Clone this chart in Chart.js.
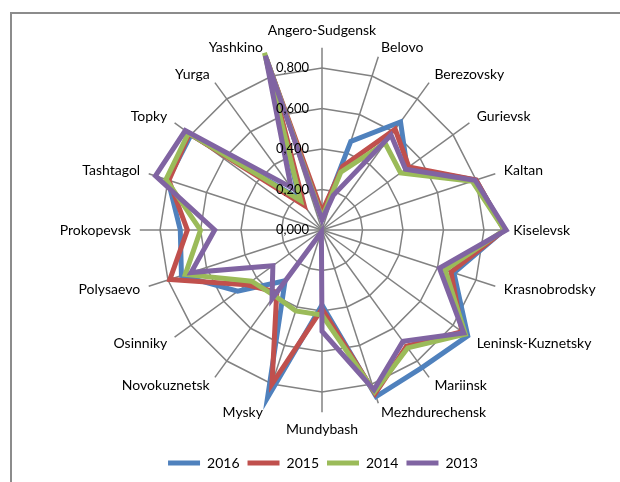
<!DOCTYPE html>
<html>
<head>
<meta charset="utf-8">
<script src="https://cdn.jsdelivr.net/npm/chart.js@4"></script>
<style>
  html, body { margin: 0; padding: 0; background: #fff; }
  #wrap { position: relative; width: 620px; height: 482px; overflow: hidden; }
  #frame { position: absolute; left: 10px; top: 12px; width: 700px; height: 600px; border: 2px solid #8c8c8c; }
  #chart { position: absolute; left: 0; top: 0; }
</style>
</head>
<body>
<div id="wrap">
  <div id="frame"></div>
  <canvas id="chart" width="620" height="482"></canvas>
</div>
<script>
const towns = [
  'Angero-Sudgensk', 'Belovo', 'Berezovsky', 'Gurievsk', 'Kaltan', 'Kiselevsk',
  'Krasnobrodsky', 'Leninsk-Kuznetsky', 'Mariinsk', 'Mezhdurechensk', 'Mundybash',
  'Mysky', 'Novokuznetsk', 'Osinniky', 'Polysaevo', 'Prokopevsk', 'Tashtagol',
  'Topky', 'Yurga', 'Yashkino'
];

const years = ['2016', '2015', '2014', '2013'];
const colors = ['#4F81BD', '#C0504D', '#9BBB59', '#8064A2'];

const v2016 = [0.07, 0.46, 0.66, 0.52, 0.80, 0.90, 0.685, 0.89, 0.84, 0.865, 0.37, 0.87, 0.31, 0.515, 0.73, 0.70, 0.80, 0.80, 0.19, 0.89];
const v2015 = [0.09, 0.33, 0.615, 0.53, 0.80, 0.90, 0.67, 0.855, 0.71, 0.85, 0.39, 0.80, 0.38, 0.46, 0.79, 0.665, 0.795, 0.81, 0.15, 0.89];
const v2014 = [0.06, 0.30, 0.53, 0.48, 0.78, 0.90, 0.64, 0.875, 0.72, 0.84, 0.42, 0.42, 0.40, 0.43, 0.71, 0.60, 0.81, 0.815, 0.18, 0.92];
const v2013 = [0.05, 0.18, 0.58, 0.51, 0.795, 0.91, 0.61, 0.865, 0.68, 0.83, 0.50, 0.01, 0.42, 0.30, 0.68, 0.53, 0.865, 0.835, 0.26, 0.905];

const rTicks = [0, 0.2, 0.4, 0.6, 0.8];
const rMax = 0.9;

Chart.defaults.font.family = 'Lato';
Chart.defaults.color = '#000';

// Excel puts the axis numbers just left of the vertical axis, over the lines
const tickLabels = {
  id: 'tickLabels',
  afterDatasetsDraw(chart) {
    const scale = chart.scales.r;
    const ctx = chart.ctx;
    ctx.save();
    ctx.font = '13px Lato';
    ctx.fillStyle = '#000';
    ctx.textAlign = 'right';
    ctx.textBaseline = 'middle';
    rTicks.forEach(v => {
      const y = scale.yCenter - scale.getDistanceFromCenterForValue(v);
      ctx.fillText(v.toFixed(3).replace('.', ','), scale.xCenter - 13, y);
    });
    ctx.restore();
  }
};

const series = [v2016, v2015, v2014, v2013];

new Chart(document.getElementById('chart'), {
  type: 'radar',
  data: {
    labels: towns,
    datasets: series.map((data, i) => ({
      label: years[i],
      data,
      borderColor: colors[i],
      backgroundColor: colors[i],
      borderWidth: 5,
      pointRadius: 0,
      fill: false,
      tension: 0,
      order: series.length - 1 - i   // 2013 drawn on top, like the original
    }))
  },
  options: {
    responsive: false,
    animation: false,
    layout: { padding: { top: 22, left: 26, right: 0, bottom: 2 } },
    plugins: {
      tooltip: { enabled: false },
      legend: {
        position: 'bottom',
        title: { display: true, text: '', font: { size: 7.5 }, padding: 0 },
        labels: {
          boxWidth: 32,
          boxHeight: 5,
          padding: 8,
          font: { size: 14 },
          color: '#000',
          sort: (a, b) => a.datasetIndex - b.datasetIndex,
          generateLabels: chart =>
            Chart.defaults.plugins.legend.labels.generateLabels(chart).map(l => ({
              ...l, lineWidth: 0, fillStyle: l.strokeStyle
            }))
        }
      }
    },
    scales: {
      r: {
        min: 0,
        max: rMax,
        ticks: { stepSize: 0.2, display: false },
        grid: {
          circular: false,
          lineWidth: 1.5,
          color: ctx => (ctx.tick && ctx.tick.value > 0.85 ? 'rgba(0,0,0,0)' : '#828282')
        },
        angleLines: { color: '#828282', lineWidth: 1.5 },
        pointLabels: {
          padding: 9,
          color: '#000',
          // side labels sit centred on their spoke, top and bottom ones above / below
          font: ctx => ({ size: 14, lineHeight: (ctx.index === 0 || ctx.index === 10) ? 1.2 : 0.1 })
        }
      }
    }
  },
  plugins: [tickLabels]
});
</script>
</body>
</html>
